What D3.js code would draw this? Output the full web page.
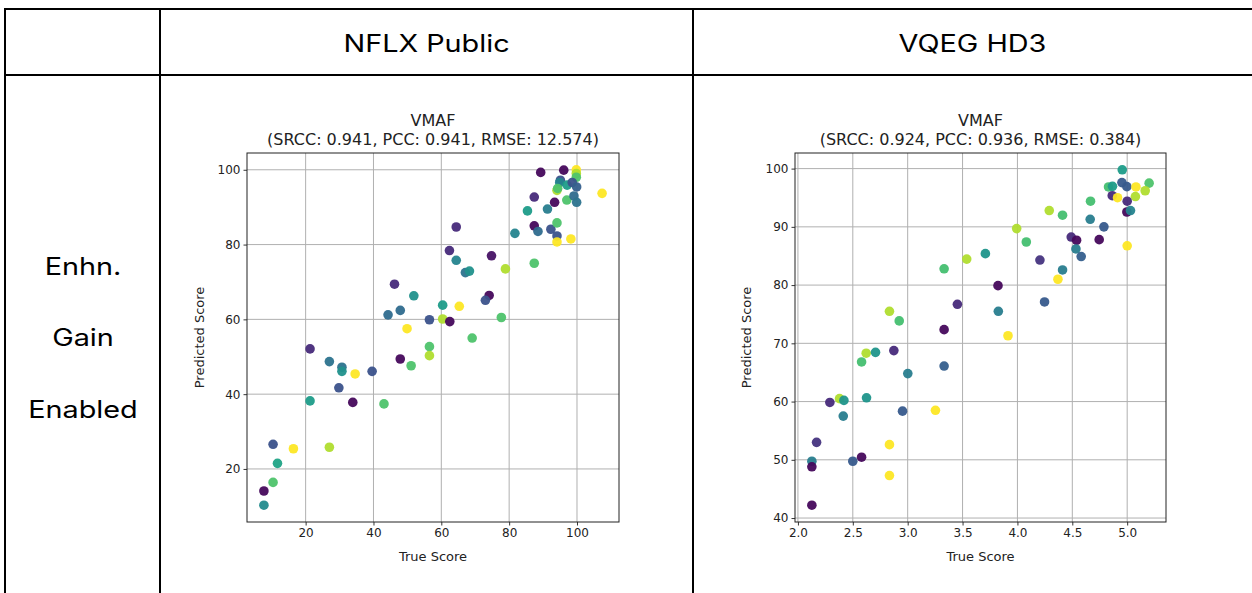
<!DOCTYPE html>
<html>
<head>
<meta charset="utf-8">
<script src="https://cdn.jsdelivr.net/npm/d3@7"></script>
<style>
  html, body { margin: 0; padding: 0; background: #fff; }
  svg { display: block; }
</style>
</head>
<body>
<svg id="chart" width="1252" height="593"></svg>
<script>
// ---------------- DATA ----------------
const columnHeaders = ["NFLX Public", "VQEG HD3"];
const rowLabel = ["Enhn.", "Gain", "Enabled"];
const plotTitles = [
  ["VMAF", "(SRCC: 0.941, PCC: 0.941, RMSE: 12.574)"],
  ["VMAF", "(SRCC: 0.924, PCC: 0.936, RMSE: 0.384)"]
];
const xLabel = "True Score";
const yLabel = "Predicted Score";

// NFLX Public: true score, predicted score, colour value (viridis 0..1)
const nflxTrue = [46.2,51.9,47.9,44.3,49.9,56.5,89.3,96.1,99.8,99.8,99.8,95.1,94.9,97.1,98.6,99.9,94.1,94.3,107.4,87.4,93.4,97.0,99.1,99.9,85.4,91.3,64.4,81.7,87.4,88.5,92.3,94.1,94.1,94.1,98.2,62.4,64.4,74.8,67.1,68.3,78.9,87.4,74.1,73.0,60.4,65.3,60.4,62.5,77.7,69.1,56.5,56.5,21.3,27.0,30.7,30.7,34.6,39.6,47.9,51.1,29.8,21.3,33.9,43.1,10.4,16.4,27.0,11.7,10.4,7.7,7.7];
const nflxPred = [69.4,66.3,62.4,61.2,57.5,59.9,99.3,99.9,100.0,99.0,98.0,97.2,96.6,95.9,96.6,95.4,94.5,95.0,93.7,92.7,91.3,91.9,93.0,91.3,89.0,89.5,84.7,83.0,85.0,83.5,84.1,85.8,82.3,80.7,81.5,78.4,75.8,77.0,72.5,72.9,73.5,75.0,66.4,65.1,63.8,63.5,60.1,59.4,60.5,55.0,52.7,50.3,52.1,48.7,47.2,46.1,45.4,46.1,49.4,47.6,41.7,38.2,37.8,37.4,26.6,25.4,25.8,21.5,16.4,14.1,10.3];
const nflxColor = [0.12,0.5,0.35,0.35,1.0,0.25,0.02,0.02,1.0,0.88,0.72,0.25,0.45,0.55,0.25,0.3,0.88,0.72,1.0,0.12,0.02,0.72,0.35,0.38,0.55,0.42,0.12,0.45,0.02,0.35,0.25,0.72,0.25,1.0,1.0,0.12,0.45,0.05,0.38,0.5,0.88,0.72,0.02,0.25,0.55,1.0,0.88,0.02,0.72,0.72,0.72,0.88,0.12,0.38,0.38,0.5,1.0,0.25,0.02,0.72,0.25,0.55,0.02,0.72,0.25,1.0,0.88,0.58,0.72,0.02,0.48];

// VQEG HD3
const vqegTrue = [3.538,3.332,3.453,2.834,2.923,3.332,4.955,4.952,4.997,5.08,5.2,5.164,5.075,4.83,4.866,4.864,4.912,5.0,4.997,5.03,4.666,4.29,4.411,4.663,4.788,3.993,4.081,3.708,4.49,4.539,4.745,5.0,4.533,4.581,4.205,4.411,4.369,3.823,4.247,3.826,3.914,3.332,3.001,2.874,2.622,2.707,2.58,2.625,2.291,2.379,2.419,2.413,2.953,3.253,2.17,2.834,2.127,2.127,2.5,2.58,2.834,2.127];
const vqegPred = [84.46,82.8,76.7,75.5,73.85,72.35,99.8,97.6,96.9,96.85,97.5,96.2,95.2,96.85,96.95,95.35,95.0,94.4,92.55,92.8,94.4,92.8,92.0,91.3,90.0,89.7,87.4,85.4,88.25,87.7,87.8,86.75,86.2,84.9,84.3,82.6,81.0,79.9,77.1,75.5,71.3,66.1,64.8,68.75,68.3,68.45,66.8,60.65,59.85,60.5,60.2,57.5,58.35,58.5,53.0,52.6,49.75,48.8,49.75,50.45,47.3,42.2];
const vqegColor = [0.88,0.7,0.12,0.88,0.7,0.02,0.55,0.28,0.28,1.0,0.72,0.88,0.88,0.7,0.55,0.12,1.0,0.12,0.02,0.45,0.7,0.88,0.7,0.42,0.28,0.88,0.7,0.52,0.12,0.02,0.02,1.0,0.42,0.3,0.15,0.42,1.0,0.02,0.28,0.42,1.0,0.3,0.42,0.12,0.88,0.52,0.7,0.52,0.12,0.88,0.52,0.42,0.28,1.0,0.15,1.0,0.42,0.02,0.28,0.02,1.0,0.02];

const nflxXTicks = [20, 40, 60, 80, 100];
const nflxYTicks = [20, 40, 60, 80, 100];
const vqegXTicks = [2.0, 2.5, 3.0, 3.5, 4.0, 4.5, 5.0];
const vqegYTicks = [40, 50, 60, 70, 80, 90, 100];

// ---------------- DRAW ----------------
const svg = d3.select("#chart");
const W = 1252, H = 593;

// table grid
const tbl = svg.append("g").attr("stroke", "#000").attr("stroke-width", 2);
const tTop = 9, tLeft = 5, colA = 160, colB = 693, headBottom = 75;
tbl.append("line").attr("x1", tLeft).attr("x2", W).attr("y1", tTop).attr("y2", tTop);
tbl.append("line").attr("x1", tLeft).attr("x2", W).attr("y1", headBottom).attr("y2", headBottom);
[tLeft, colA, colB].forEach(x =>
  tbl.append("line").attr("x1", x).attr("x2", x).attr("y1", tTop - 1).attr("y2", H));

const headFont = "Inter, Roboto, 'Noto Sans', sans-serif";
function wideText(x, y, t) {
  svg.append("text").attr("transform", `translate(${x},${y}) scale(1.2,1)`)
    .attr("text-anchor", "middle").attr("dominant-baseline", "central")
    .attr("font-family", headFont).attr("font-size", 24).attr("fill", "#000")
    .text(t);
}
wideText((colA + colB) / 2, 43, columnHeaders[0]);
wideText(972.5, 43, columnHeaders[1]);

const rowY = [266, 337, 409];
rowLabel.forEach((t, i) => wideText(83, rowY[i], t));

const mplFont = "'DejaVu Sans', sans-serif";

function padDomain(arr) {
  const ext = d3.extent(arr);
  const m = (ext[1] - ext[0]) * 0.05;
  return [ext[0] - m, ext[1] + m];
}

function scatter(opts) {
  const { x0, x1, y0, y1, xs, ys, cs, xTicks, yTicks, xFmt, title } = opts;
  const g = svg.append("g");
  const x = d3.scaleLinear().domain(padDomain(xs)).range([x0, x1]);
  const y = d3.scaleLinear().domain(padDomain(ys)).range([y1, y0]);

  // grid
  g.append("g").selectAll("line").data(xTicks).join("line")
    .attr("x1", d => x(d)).attr("x2", d => x(d)).attr("y1", y0).attr("y2", y1)
    .attr("stroke", "#b0b0b0").attr("stroke-width", 1);
  g.append("g").selectAll("line").data(yTicks).join("line")
    .attr("x1", x0).attr("x2", x1).attr("y1", d => y(d)).attr("y2", d => y(d))
    .attr("stroke", "#b0b0b0").attr("stroke-width", 1);

  // points
  g.append("g").selectAll("circle").data(xs.map((v, i) => i)).join("circle")
    .attr("cx", i => x(xs[i])).attr("cy", i => y(ys[i])).attr("r", 4.8)
    .attr("fill", i => d3.interpolateViridis(cs[i])).attr("fill-opacity", 0.95);

  // axes
  const xAxis = d3.axisBottom(x).tickValues(xTicks).tickSize(3.5).tickPadding(3).tickFormat(xFmt);
  const yAxis = d3.axisLeft(y).tickValues(yTicks).tickSize(3.5).tickPadding(3).tickFormat(d3.format("d"));
  const gx = g.append("g").attr("transform", `translate(0,${y1})`).call(xAxis);
  const gy = g.append("g").attr("transform", `translate(${x0},0)`).call(yAxis);
  [gx, gy].forEach(a => {
    a.select(".domain").remove();
    a.selectAll("text").attr("font-family", mplFont).attr("font-size", 12).attr("fill", "#222");
    a.selectAll("line").attr("stroke", "#000").attr("stroke-width", 0.8);
  });

  // frame
  g.append("rect").attr("x", x0).attr("y", y0).attr("width", x1 - x0).attr("height", y1 - y0)
    .attr("fill", "none").attr("stroke", "#222").attr("stroke-width", 1);

  const cx = (x0 + x1) / 2;
  g.append("text").attr("x", cx).attr("y", 126).attr("text-anchor", "middle")
    .attr("font-family", mplFont).attr("font-size", 16).attr("fill", "#222").text(title[0]);
  g.append("text").attr("x", cx).attr("y", 145).attr("text-anchor", "middle")
    .attr("font-family", mplFont).attr("font-size", 16).attr("fill", "#222").text(title[1]);

  g.append("text").attr("x", cx).attr("y", 561).attr("text-anchor", "middle")
    .attr("font-family", mplFont).attr("font-size", 13).attr("fill", "#222").text(xLabel);
  g.append("text").attr("transform", `translate(${opts.ylabX},${(y0 + y1) / 2}) rotate(-90)`)
    .attr("text-anchor", "middle")
    .attr("font-family", mplFont).attr("font-size", 13).attr("fill", "#222").text(yLabel);
}

scatter({ x0: 247, x1: 619, y0: 153, y1: 522, xs: nflxTrue, ys: nflxPred, cs: nflxColor,
  xTicks: nflxXTicks, yTicks: nflxYTicks, xFmt: d3.format("d"), title: plotTitles[0], ylabX: 204 });
scatter({ x0: 795, x1: 1166, y0: 153, y1: 522, xs: vqegTrue, ys: vqegPred, cs: vqegColor,
  xTicks: vqegXTicks, yTicks: vqegYTicks, xFmt: d3.format(".1f"), title: plotTitles[1], ylabX: 751 });
</script>
</body>
</html>
